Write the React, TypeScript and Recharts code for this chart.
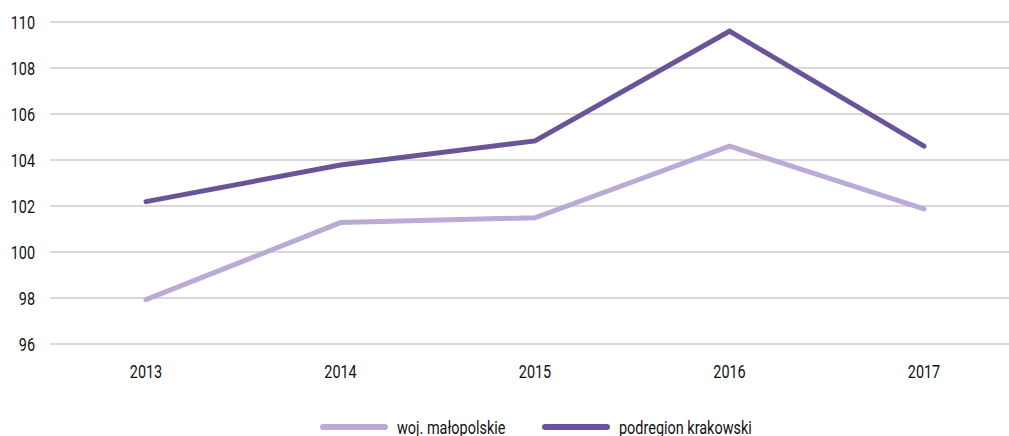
import React from "react";
import { LineChart, Line, XAxis, YAxis, CartesianGrid, Legend } from "recharts";

const years = ["2013", "2014", "2015", "2016", "2017"];
const malopolskie = [97.93, 101.28, 101.49, 104.6, 101.87];
const krakowski = [102.19, 103.78, 104.83, 109.6, 104.6];
const yTicks = [96, 98, 100, 102, 104, 106, 108, 110];

const seriesNames = ["woj. małopolskie", "podregion krakowski"];
const seriesColors = ["#b9abd5", "#6a5499"];

const data = years.map((y, i) => ({ year: y, a: malopolskie[i], b: krakowski[i] }));

const FONT = "Roboto, 'Liberation Sans', sans-serif";
const FS = 19;
const SX = 0.76;

const XTick = (props: any) => {
  const { x, y, payload } = props;
  return (
    <g transform={`translate(${x},${y}) scale(${SX},1)`}>
      <text x={0} y={0} dy="0.71em" textAnchor="middle" fill="#111" fontSize={FS} fontFamily={FONT}>
        {payload.value}
      </text>
    </g>
  );
};

const YTick = (props: any) => {
  const { x, y, payload } = props;
  return (
    <g transform={`translate(${x},${y}) scale(${SX},1)`}>
      <text x={0} y={0} dy="0.355em" textAnchor="end" fill="#111" fontSize={FS} fontFamily={FONT}>
        {payload.value}
      </text>
    </g>
  );
};

const renderLegend = () => (
  <div style={{ position: "relative", height: 30, fontFamily: FONT, fontSize: FS, color: "#111" }}>
    {seriesNames.map((n, i) => (
      <div
        key={n}
        style={{
          position: "absolute",
          left: i === 0 ? 320 : 542,
          top: 0,
          display: "flex",
          alignItems: "center",
          height: 30,
          whiteSpace: "nowrap",
        }}
      >
        <svg width={68} height={10} style={{ marginRight: 9 }}>
          <line x1={3} y1={5} x2={65} y2={5} stroke={seriesColors[i]} strokeWidth={6} strokeLinecap="round" />
        </svg>
        <span style={{ display: "inline-block", transform: `scaleX(${SX})`, transformOrigin: "left center" }}>{n}</span>
      </div>
    ))}
  </div>
);

export default function App() {
  return (
    <div style={{ position: "absolute", left: 0, top: 0, background: "#fff" }}>
      <LineChart width={1009} height={436} data={data} margin={{ top: 22, right: 0, bottom: 0, left: 0 }}>
        <CartesianGrid vertical={false} stroke="#d9d9d9" strokeWidth={2} />
        <XAxis
          dataKey="year"
          axisLine={false}
          tickLine={false}
          tickSize={6}
          tickMargin={15}
          height={62}
          padding={{ left: 96, right: 85 }}
          tick={<XTick />}
        />
        <YAxis
          domain={[96, 110]}
          ticks={yTicks}
          axisLine={false}
          tickLine={false}
          tickSize={6}
          tickMargin={9}
          width={50}
          tick={<YTick />}
        />
        <Legend verticalAlign="bottom" content={renderLegend} wrapperStyle={{ left: 0, top: 412, width: 1009 }} />
        <Line dataKey="a" name={seriesNames[0]} stroke={seriesColors[0]} strokeWidth={5} strokeLinecap="round" dot={false} activeDot={false} isAnimationActive={false} />
        <Line dataKey="b" name={seriesNames[1]} stroke={seriesColors[1]} strokeWidth={5} strokeLinecap="round" dot={false} activeDot={false} isAnimationActive={false} />
      </LineChart>
    </div>
  );
}
